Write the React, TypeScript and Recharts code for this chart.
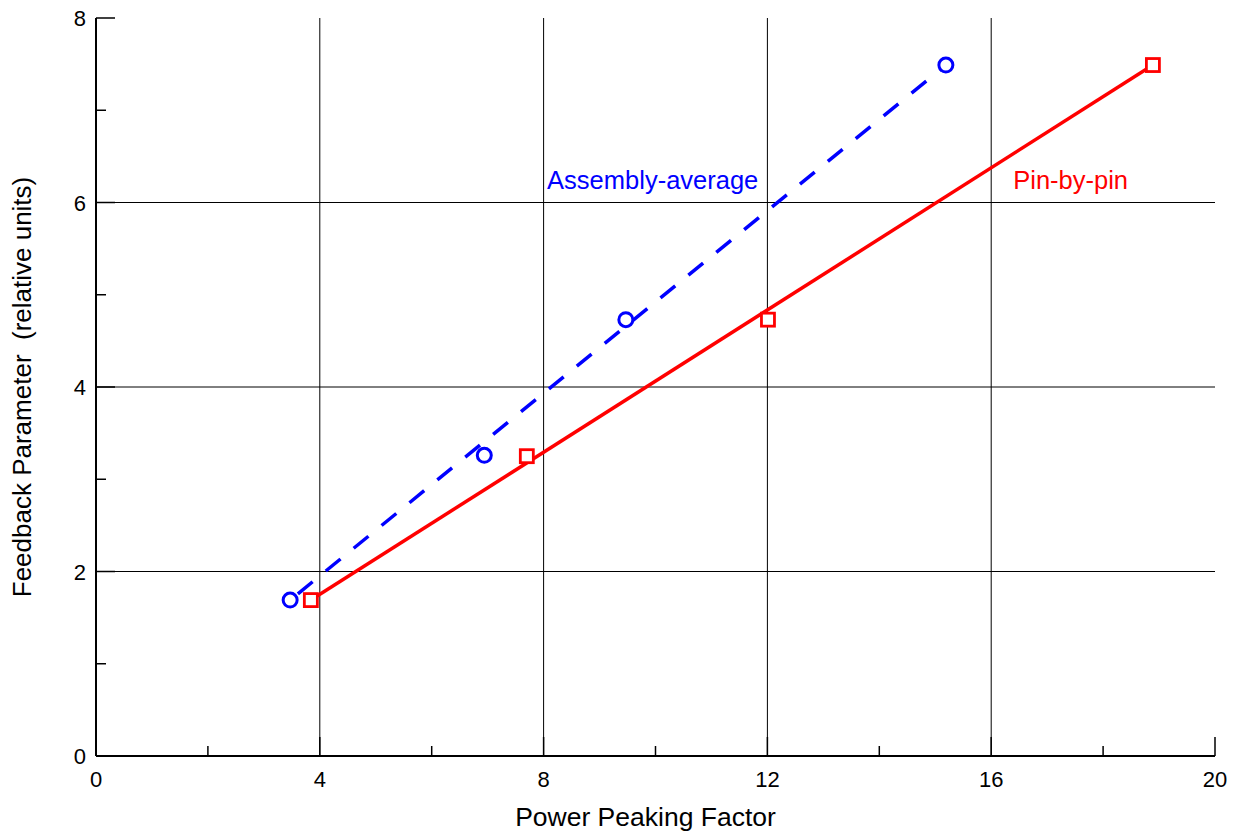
import React from 'react';
import { ScatterChart, Scatter, XAxis, YAxis, CartesianGrid, ReferenceDot, Label } from 'recharts';

const xTicks = [0, 2, 4, 6, 8, 10, 12, 14, 16, 18, 20];
const yTicks = [0, 1, 2, 3, 4, 5, 6, 7, 8];
const xGrid = [4, 8, 12, 16];
const yGrid = [2, 4, 6];

const assemblyX = [3.47, 6.94, 9.47, 15.19];
const assemblyY = [1.69, 3.26, 4.73, 7.49];
const pinX = [3.84, 7.7, 12.01, 18.89];
const pinY = [1.69, 3.25, 4.73, 7.49];

const assemblyFitX = [3.47, 15.19];
const assemblyFitY = [1.69, 7.49];
const pinFitX = [3.84, 18.89];
const pinFitY = [1.69, 7.49];

const noteText = ['Assembly-average', 'Pin-by-pin'];
const noteX = [9.95, 17.42];
const noteY = [6.24, 6.24];
const noteColor = ['#0000ff', '#ff0000'];

const xTitle = 'Power Peaking Factor';
const yTitle = 'Feedback Parameter  (relative units)';

const FONT = '"Liberation Sans", Arial, sans-serif';

const toPts = (xs: number[], ys: number[]) => xs.map((x, i) => ({ x, y: ys[i] }));

const assemblyData = toPts(assemblyX, assemblyY);
const pinData = toPts(pinX, pinY);
const assemblyFit = toPts(assemblyFitX, assemblyFitY);
const pinFit = toPts(pinFitX, pinFitY);

const isMajorX = (v: number) => v % 4 === 0;
const isMajorY = (v: number) => v % 2 === 0;

const BottomTick = (props: any) => {
  const { x, y, payload } = props;
  const major = isMajorX(payload.value);
  return (
    <g>
      <line x1={x} y1={y} x2={x} y2={y - (major ? 19 : 10)} stroke="#000" strokeWidth={1.5} />
      {major && (
        <text x={x} y={y + 31} textAnchor="middle" fontSize={22} fontFamily={FONT} fill="#000">
          {payload.value}
        </text>
      )}
    </g>
  );
};

const TopTick = (props: any) => {
  const { x, y, payload } = props;
  const major = isMajorX(payload.value);
  return <line x1={x} y1={y} x2={x} y2={y + (major ? 19 : 10)} stroke="#000" strokeWidth={1.5} />;
};

const LeftTick = (props: any) => {
  const { x, y, payload } = props;
  const major = isMajorY(payload.value);
  return (
    <g>
      <line x1={x} y1={y} x2={x + (major ? 19 : 10)} y2={y} stroke="#000" strokeWidth={1.5} />
      {major && (
        <text x={x - 10} y={y + 8} textAnchor="end" fontSize={22} fontFamily={FONT} fill="#000">
          {payload.value}
        </text>
      )}
    </g>
  );
};

const RightTick = (props: any) => {
  const { x, y, payload } = props;
  const major = isMajorY(payload.value);
  return <line x1={x} y1={y} x2={x - (major ? 19 : 10)} y2={y} stroke="#000" strokeWidth={1.5} />;
};

const Circle = (props: any) => (
  <circle cx={props.cx} cy={props.cy} r={7} fill="#fff" stroke="#0000ff" strokeWidth={3} />
);
const Square = (props: any) => (
  <rect x={props.cx - 6.5} y={props.cy - 6.5} width={13} height={13} fill="#fff" stroke="#ff0000" strokeWidth={2.8} />
);
const Empty = () => <g />;

const XTitleContent = (props: any) => {
  const vb = props.viewBox;
  return (
    <text x={vb.x + vb.width / 2 - 10} y={vb.y + 70} textAnchor="middle" fontSize={26.5} fontFamily={FONT} fill="#000">
      {xTitle}
    </text>
  );
};

const YTitleContent = (props: any) => {
  const vb = props.viewBox;
  const cx = 31;
  const cy = vb.y + vb.height / 2;
  return (
    <text x={cx} y={cy} transform={`rotate(-90, ${cx}, ${cy})`} textAnchor="middle" fontSize={26} fontFamily={FONT} fill="#000" style={{ whiteSpace: 'pre' }}>
      {yTitle}
    </text>
  );
};

const noteLabel = (i: number) => (props: any) => {
  const vb = props.viewBox;
  return (
    <text x={vb.x} y={vb.y + 9} textAnchor="middle" fontSize={25.5} fontFamily={FONT} fill={noteColor[i]}>
      {noteText[i]}
    </text>
  );
};

export default function App() {
  return (
    <div style={{ position: 'absolute', left: 0, top: 0, width: 1240, height: 838, background: '#fff' }}>
      <ScatterChart width={1240} height={838} margin={{ top: 18, right: 25, left: 0, bottom: 0 }}>
        <CartesianGrid verticalValues={xGrid} horizontalValues={yGrid} stroke="#000" strokeWidth={1} />
        <XAxis
          dataKey="x"
          type="number"
          domain={[0, 20]}
          ticks={xTicks}
          interval={0}
          height={82}
          tickSize={0}
          tickMargin={0}
          tickLine={false}
          tick={<BottomTick />}
          axisLine={{ stroke: '#000', strokeWidth: 2 }}
          allowDataOverflow
        >
          <Label content={<XTitleContent />} />
        </XAxis>
        <XAxis
          xAxisId="top"
          orientation="top"
          dataKey="x"
          type="number"
          domain={[0, 20]}
          ticks={xTicks}
          interval={0}
          height={0}
          tickSize={0}
          tickMargin={0}
          tickLine={false}
          tick={<TopTick />}
          axisLine={{ stroke: '#000', strokeWidth: 2 }}
          allowDataOverflow
        />
        <YAxis
          dataKey="y"
          type="number"
          domain={[0, 8]}
          ticks={yTicks}
          interval={0}
          width={96}
          tickSize={0}
          tickMargin={0}
          tickLine={false}
          tick={<LeftTick />}
          axisLine={{ stroke: '#000', strokeWidth: 2 }}
          allowDataOverflow
        >
          <Label content={<YTitleContent />} />
        </YAxis>
        <YAxis
          yAxisId="right"
          orientation="right"
          dataKey="y"
          type="number"
          domain={[0, 8]}
          ticks={yTicks}
          interval={0}
          width={0}
          tickSize={0}
          tickMargin={0}
          tickLine={false}
          tick={<RightTick />}
          axisLine={{ stroke: '#000', strokeWidth: 2 }}
          allowDataOverflow
        />
        <Scatter
          data={assemblyFit}
          shape={<Empty />}
          line={{ stroke: '#0000ff', strokeWidth: 3.5, strokeDasharray: '19 17', strokeDashoffset: 26 }}
          isAnimationActive={false}
        />
        <Scatter
          data={pinFit}
          shape={<Empty />}
          line={{ stroke: '#ff0000', strokeWidth: 3.5 }}
          isAnimationActive={false}
        />
        <Scatter data={assemblyData} shape={<Circle />} isAnimationActive={false} />
        <Scatter data={pinData} shape={<Square />} isAnimationActive={false} />
        <Scatter xAxisId="top" yAxisId="right" data={[]} shape={<Empty />} isAnimationActive={false} />
        {noteText.map((t, i) => (
          <ReferenceDot key={t} x={noteX[i]} y={noteY[i]} r={0} stroke="none" fill="none" label={noteLabel(i)} />
        ))}
      </ScatterChart>
    </div>
  );
}
